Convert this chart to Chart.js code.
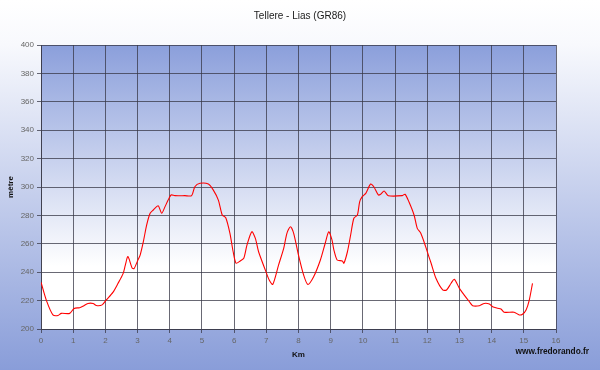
<!DOCTYPE html>
<html>
<head>
<meta charset="utf-8">
<script src="https://cdn.jsdelivr.net/npm/chart.js@4/dist/chart.umd.min.js"></script>
<style>
html,body{margin:0;padding:0;background:#fff;}
canvas{display:block;}
</style>
</head>
<body>
<canvas id="c" width="600" height="370"></canvas>
<script>
const chartTitle = "Tellere - Lias (GR86)";
const xTitle = "Km";
const yTitle = "mètre";
const credit = "www.fredorando.fr";

const distanceKm = [0.00,0.17,0.37,0.53,0.63,0.89,1.03,1.20,1.30,1.46,1.62,1.72,1.90,2.03,2.24,2.39,2.55,2.62,2.70,2.83,2.89,3.01,3.08,3.18,3.28,3.39,3.49,3.64,3.75,3.85,3.95,4.04,4.16,4.47,4.68,4.78,4.94,5.20,5.35,5.51,5.63,5.74,5.87,5.97,6.06,6.19,6.30,6.40,6.55,6.66,6.76,6.97,7.09,7.20,7.38,7.54,7.64,7.75,7.85,8.00,8.16,8.29,8.47,8.68,8.83,8.94,9.04,9.10,9.20,9.36,9.41,9.52,9.62,9.72,9.83,9.90,9.98,10.09,10.24,10.34,10.48,10.55,10.66,10.79,11.22,11.31,11.43,11.59,11.69,11.80,11.95,12.05,12.12,12.27,12.48,12.60,12.74,12.84,13.00,13.15,13.31,13.41,13.62,13.77,13.93,14.03,14.19,14.29,14.39,14.70,14.86,14.96,15.07,15.17,15.27];
const altitudeM = [233,220,210,209.5,211,211,214.5,215,216,218,218,216.5,217,220.5,226,232,239,245,251,243,242.5,248.5,252,261.5,273,281.5,283.8,286.8,281.5,286,290.8,294.4,293.9,293.9,293.9,300.2,302.6,302.1,298,290.8,280.3,278.4,267.4,254.4,246.3,247.9,249.8,259.2,268.5,263.8,254.4,241.5,234.5,231.4,245,256.8,267.4,272,267.4,252.1,238,231.4,236.8,248.6,260.4,268.5,262.7,255.6,248.6,247.9,246.3,254.4,266.2,278,280.3,289.6,293.2,295.5,302.1,300.2,294.4,294.9,297.2,293.9,293.9,294.9,289.6,280.3,270.9,267.4,258,251,246.3,235.7,227.5,227.5,232.2,235,228.6,223.9,219.2,216.4,216.4,218,217.6,215.7,214.6,214.1,211.8,211.8,209.9,210.4,213.4,220.4,232.2];

const xMin = 0, xMax = 16, xStep = 1;
const yMin = 200, yMax = 400, yStep = 20;

const points = distanceKm.map((d, i) => ({x: d, y: altitudeM[i]}));

const decor = {
  id: 'decor',
  beforeDraw(chart) {
    const ctx = chart.ctx;
    const W = chart.width, H = chart.height;
    ctx.save();
    const g = ctx.createLinearGradient(0, 0, 0, H);
    g.addColorStop(0, '#ffffff');
    g.addColorStop(0.12, '#f8f9fd');
    g.addColorStop(1, '#899dd9');
    ctx.fillStyle = g;
    ctx.fillRect(0, 0, W, H);
    const a = chart.chartArea;
    const g2 = ctx.createLinearGradient(0, a.top, 0, a.bottom);
    g2.addColorStop(0, '#8b9fdb');
    g2.addColorStop(0.78, '#ffffff');
    g2.addColorStop(1, '#ffffff');
    ctx.fillStyle = g2;
    ctx.fillRect(a.left, a.top, a.right - a.left, a.bottom - a.top);
    ctx.fillStyle = '#1a1a1a';
    ctx.font = '10px "Liberation Sans", Arial, sans-serif';
    ctx.textAlign = 'center';
    ctx.textBaseline = 'middle';
    ctx.fillText(chartTitle, 300, 16);
    ctx.fillStyle = '#111';
    ctx.font = 'bold 8.3px "Liberation Sans", Arial, sans-serif';
    ctx.textAlign = 'right';
    ctx.fillText(credit, 589, 352);
    ctx.restore();
  }
};

const gridColor = 'rgba(55,55,70,0.75)';
const tickFont = {family: '"Liberation Sans", Arial, sans-serif', size: 8};
const titleFont = {family: '"Liberation Sans", Arial, sans-serif', size: 8, weight: 'bold'};

new Chart(document.getElementById('c'), {
  type: 'line',
  data: {
    datasets: [{
      data: points,
      borderColor: '#ff0000',
      borderWidth: 1.1,
      pointRadius: 0,
      tension: 0.25,
      fill: false
    }]
  },
  options: {
    responsive: false,
    animation: false,
    layout: {padding: {top: 45, right: 44, left: 0, bottom: 0}},
    plugins: {legend: {display: false}, tooltip: {enabled: false}, title: {display: false}},
    scales: {
      x: {
        type: 'linear',
        min: xMin, max: xMax,
        afterFit(s) { s.height = 41; },
        ticks: {stepSize: xStep, color: '#666', font: tickFont, padding: 3, maxRotation: 0, autoSkip: false},
        grid: {color: gridColor, lineWidth: 1, tickLength: 4, tickColor: gridColor},
        border: {display: true, color: gridColor},
        title: {display: true, text: xTitle, color: '#111', font: titleFont, padding: {top: 0, bottom: 10}}
      },
      y: {
        type: 'linear',
        min: yMin, max: yMax,
        afterFit(s) { s.width = 41; },
        ticks: {stepSize: yStep, color: '#666', font: tickFont, padding: 3},
        grid: {color: gridColor, lineWidth: 1, tickLength: 4, tickColor: gridColor},
        border: {display: true, color: gridColor},
        title: {display: true, text: yTitle, color: '#111', font: titleFont, padding: {top: 6, bottom: 0}}
      }
    }
  },
  plugins: [decor]
});
</script>
</body>
</html>
